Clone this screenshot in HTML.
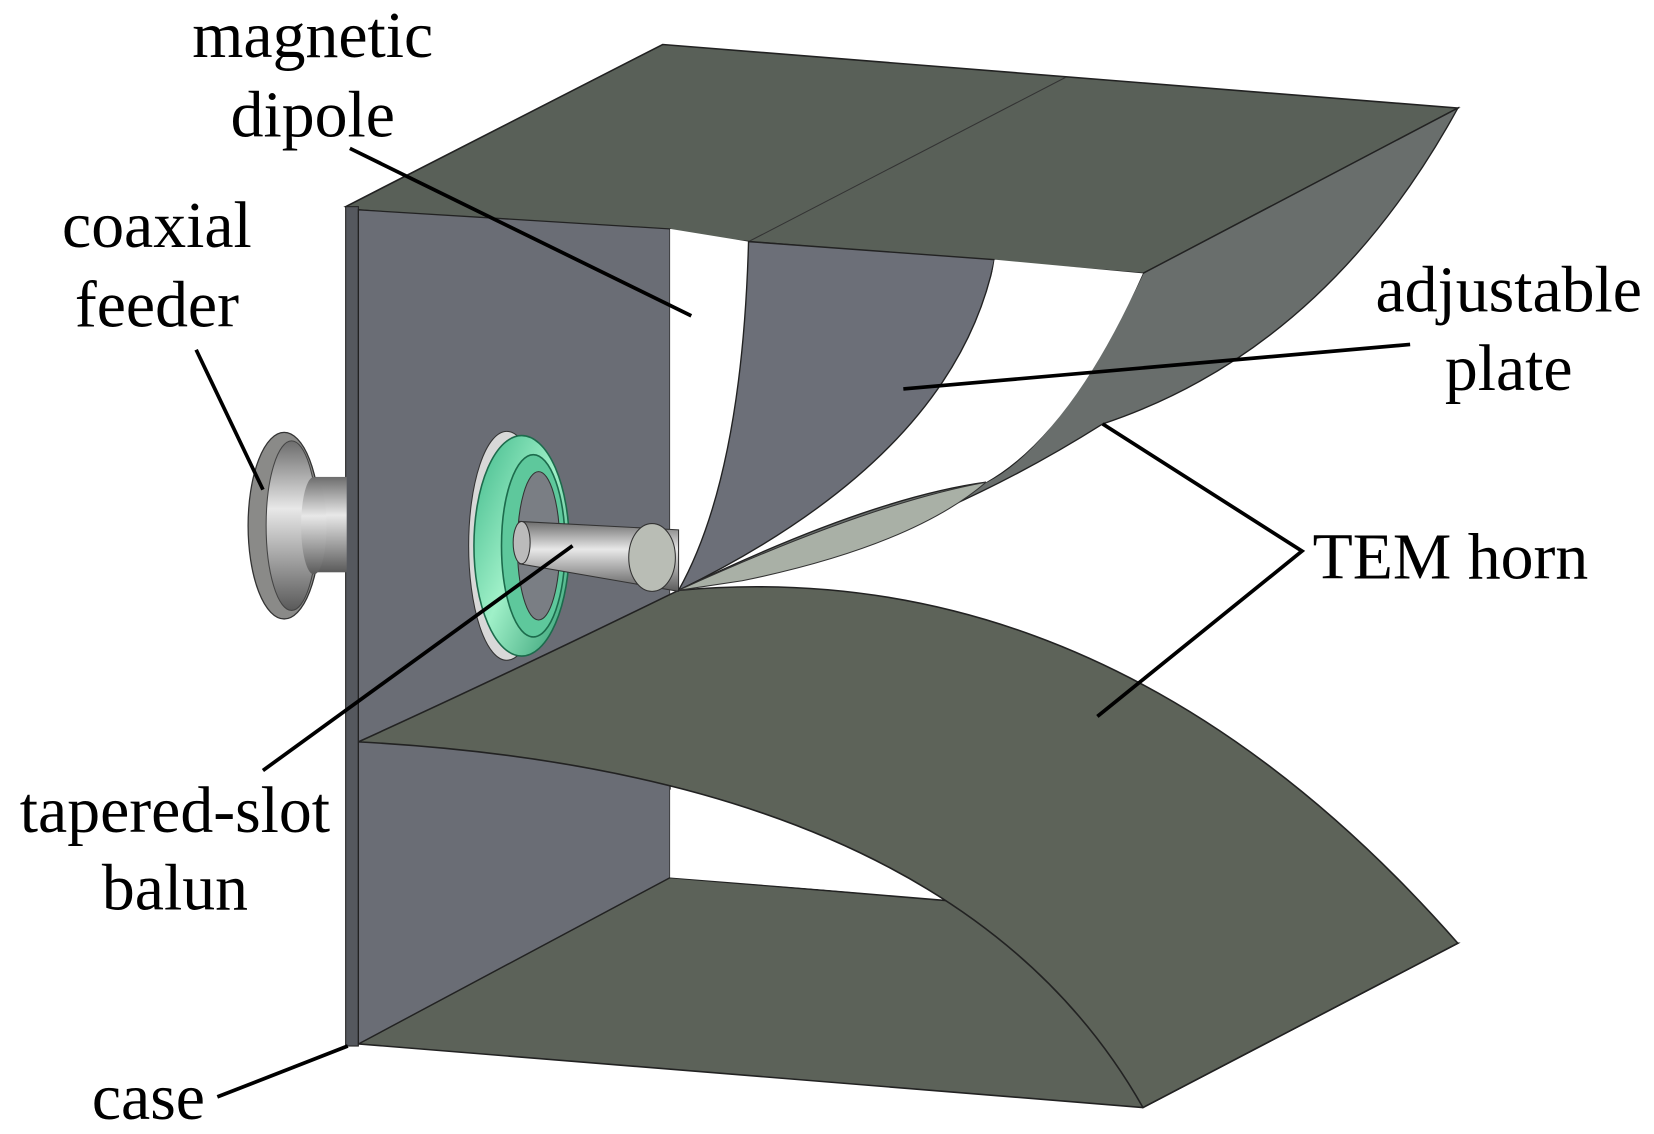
<!DOCTYPE html>
<html><head><style>html,body{margin:0;padding:0;background:#fff}svg{display:block}</style></head>
<body>
<svg width="1654" height="1134" viewBox="0 0 1560 1070" preserveAspectRatio="none" xmlns="http://www.w3.org/2000/svg">
<defs>
<linearGradient id="cyl" x1="0" y1="0" x2="0" y2="1"><stop offset="0" stop-color="#6d6d6d"/><stop offset="0.4" stop-color="#e8e8e8"/><stop offset="1" stop-color="#5a5a5a"/></linearGradient>
<linearGradient id="grn" x1="0" y1="0" x2="1" y2="1"><stop offset="0" stop-color="#3fb88a"/><stop offset="0.5" stop-color="#9ff0c8"/><stop offset="1" stop-color="#2f9a70"/></linearGradient>
</defs>
<polygon points="326,195 625,42 1375,102 1078,258 338,198" fill="#596058" stroke="#222" stroke-width="1.5"/>
<line x1="1005" y1="73" x2="706" y2="228" stroke="#333" stroke-width="1"/>
<polygon points="338,985 632,828 1375,890 1078,1045" fill="#5c6259" stroke="#222" stroke-width="1.5"/>
<rect x="326" y="195" width="12" height="792" fill="#55585e" stroke="#222" stroke-width="1"/>
<polygon points="338,198 632,216 632,828 338,985" fill="#6a6d75" stroke="#222" stroke-width="1.2"/>
<path d="M632,216 L706,228 Q700,470 648,556 L632,560 Z" fill="#fff"/>
<path d="M632,745 Q760,790 850,845 L632,828 Z" fill="#fff"/>
<path d="M338,700 Q470,640 640,557 Q1050,520 1375,890 L1078,1045 Q900,730 338,700 Z" fill="#5d6359" stroke="#222" stroke-width="1.5"/>
<rect x="275" y="450" width="52" height="90" fill="url(#cyl)"/>
<ellipse cx="268" cy="496" rx="34" ry="88" fill="#8a8a88" stroke="#333" stroke-width="1.2"/>
<ellipse cx="275" cy="496" rx="24" ry="80" fill="url(#cyl)" stroke="#444" stroke-width="1"/>
<ellipse cx="296" cy="496" rx="12" ry="46" fill="url(#cyl)"/>
<ellipse cx="478" cy="515" rx="36" ry="108" fill="#d8d8d8" stroke="#333" stroke-width="1"/>
<ellipse cx="492" cy="515" rx="45" ry="104" fill="url(#grn)" stroke="#1c6b4c" stroke-width="1.5"/>
<ellipse cx="503" cy="515" rx="30" ry="86" fill="#5ec89c" stroke="#1c6b4c" stroke-width="1.5"/>
<ellipse cx="508" cy="515" rx="20" ry="70" fill="#7a7e84" stroke="#333" stroke-width="1"/>
<polygon points="490,492 640,500 640,558 490,532" fill="url(#cyl)" stroke="#333" stroke-width="1"/>
<ellipse cx="492" cy="512" rx="8" ry="20" fill="#bbb" stroke="#333"/>
<ellipse cx="615" cy="526" rx="22" ry="32" fill="#b9bdb5" stroke="#333"/>
<path d="M706,228 L938,245 Q900,430 640,557 Q700,450 706,228 Z" fill="#6c6f78" stroke="#222" stroke-width="1.3"/>
<path d="M640,557 Q820,470 930,455 Q1000,420 1078,258 L1375,102 Q1250,330 1040,400 Q850,520 640,557 Z" fill="#696e6c" stroke="#222" stroke-width="1.3"/>
<path d="M640,557 Q820,475 930,455 Q860,515 700,548 Z" fill="#a9b0a6" stroke="#333" stroke-width="1"/>
<path d="M938,245 L1078,258 Q1010,410 930,455 Q920,350 938,245 Z" fill="#fff"/>
<g stroke="#000" stroke-width="3.5" fill="none">
<line x1="330" y1="140" x2="652" y2="298"/>
<line x1="185" y1="330" x2="248" y2="462"/>
<line x1="1330" y1="325" x2="852" y2="367"/>
<polyline points="1040,400 1228,520 1035,676"/>
<line x1="248" y1="727" x2="540" y2="515"/>
<line x1="205" y1="1035" x2="328" y2="987"/>
</g>
<g font-family="Liberation Serif, serif" font-size="62" fill="#000" text-anchor="middle">
<text x="295" y="54">magnetic</text>
<text x="295" y="129">dipole</text>
<text x="148" y="233">coaxial</text>
<text x="148" y="308">feeder</text>
<text x="1423" y="294">adjustable</text>
<text x="1423" y="368">plate</text>
<text x="1368" y="546">TEM horn</text>
<text x="165" y="785">tapered-slot</text>
<text x="165" y="858">balun</text>
<text x="140" y="1056">case</text>
</g>
</svg>
</body></html>
